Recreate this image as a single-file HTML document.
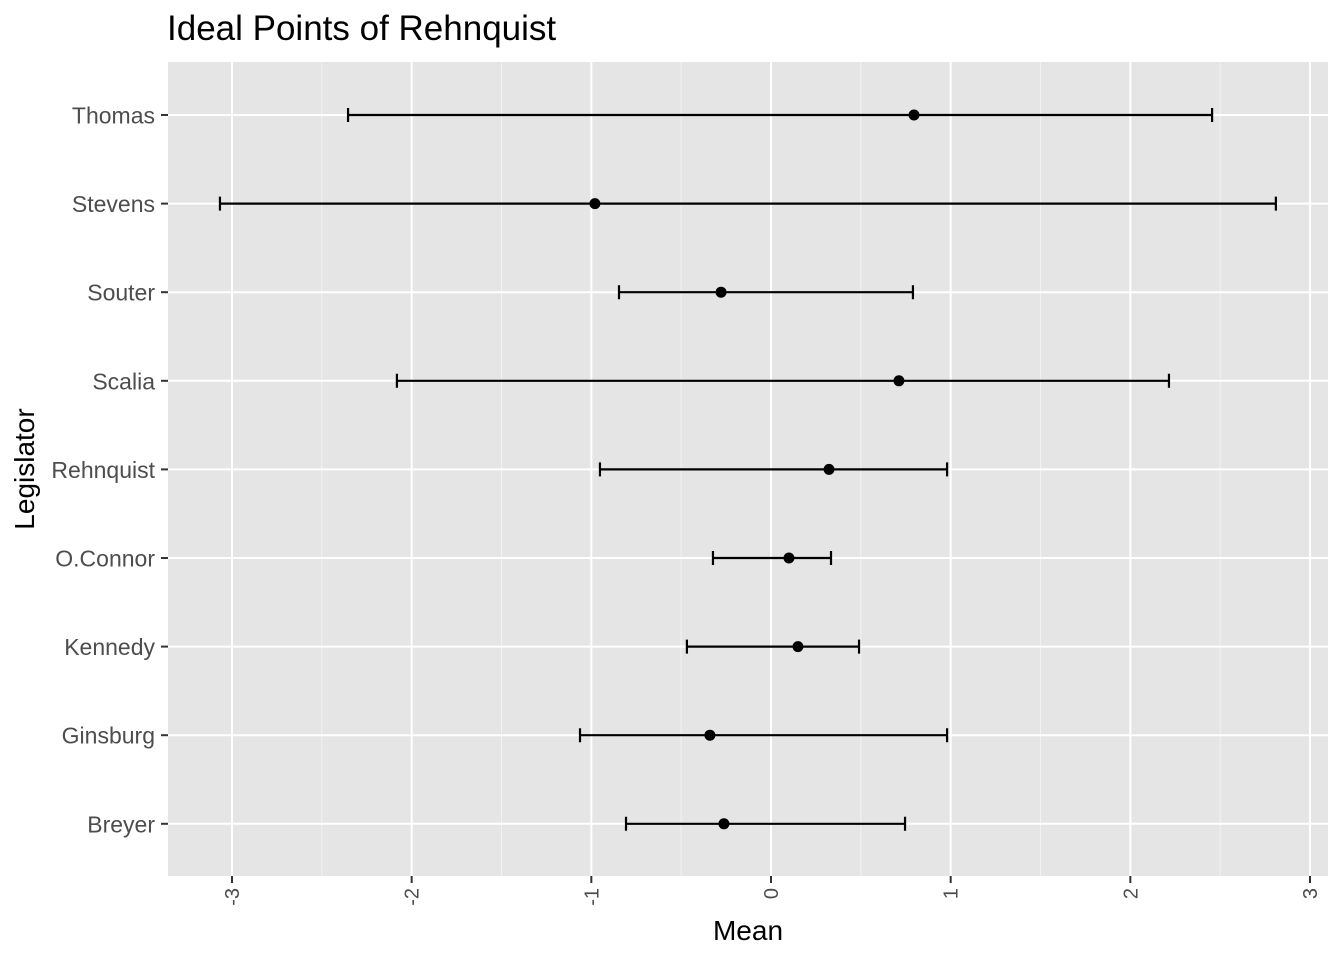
<!DOCTYPE html>
<html><head><meta charset="utf-8"><style>body{margin:0;background:#fff}svg{display:block;font-family:"Liberation Sans",Arial,sans-serif}</style></head>
<body>
<svg id="c" width="1344" height="960">
<rect width="1344" height="960" fill="#fff"/>
<text x="167" y="40" font-size="35" fill="#000">Ideal Points of Rehnquist</text>
<rect x="168" y="62" width="1160" height="814" fill="#e5e5e5"/>
<g id="grid"></g><g id="marks"></g><g id="axes"></g>
<text x="748" y="940" font-size="28" text-anchor="middle">Mean</text>
<text transform="translate(34,469) rotate(-90)" font-size="28" text-anchor="middle">Legislator</text>
</svg>
<script>
const legislators=["Thomas","Stevens","Souter","Scalia","Rehnquist","O.Connor","Kennedy","Ginsburg","Breyer"];
const means=[0.796,-0.98,-0.278,0.712,0.323,0.1,0.15,-0.34,-0.262];
const lows=[-2.354,-3.067,-0.846,-2.082,-0.952,-0.323,-0.468,-1.063,-0.807];
const highs=[2.455,2.81,0.79,2.215,0.98,0.334,0.49,0.98,0.746];
const xTicks=[-3,-2,-1,0,1,2,3];
const xTickLabels=["-3","-2","-1","0","1","2","3"];
const NS="http://www.w3.org/2000/svg";
const x=v=>771+v*179.67;
const y=i=>115+i*88.6;
function mk(tag,attrs,parent){const e=document.createElementNS(NS,tag);for(const k in attrs)e.setAttribute(k,attrs[k]);document.getElementById(parent).appendChild(e);return e;}
for(let i=0;i<xTicks.length-1;i++){const m=(xTicks[i]+xTicks[i+1])/2;
const g=mk('line',{x1:x(m),x2:x(m),y1:62,y2:876,stroke:'#f2f2f2','stroke-width':1},'grid');

}
xTicks.forEach((t,i)=>{
const g=mk('line',{x1:x(t),x2:x(t),y1:62,y2:876,stroke:'#fff','stroke-width':2},'grid');


const tk=mk('line',{x1:x(t),x2:x(t),y1:876,y2:883,stroke:'#333','stroke-width':2},'axes');


const tl=mk('text',{transform:`translate(${x(t)+7},${888}) rotate(-90)`,'font-size':20,fill:'#4d4d4d','text-anchor':'end'},'axes');
tl.textContent=xTickLabels[i];

});
legislators.forEach((n,i)=>{
const yy=y(i);
const g=mk('line',{x1:168,x2:1328,y1:yy,y2:yy,stroke:'#fff','stroke-width':2},'grid');


const tk=mk('line',{x1:161,x2:168,y1:yy,y2:yy,stroke:'#333','stroke-width':2},'axes');


const tl=mk('text',{x:155,y:yy+8.5,'font-size':23,fill:'#4d4d4d','text-anchor':'end'},'axes');
tl.textContent=n;


const ln=mk('path',{d:`M${x(lows[i])},${yy-7}V${yy+7}M${x(lows[i])},${yy}H${x(highs[i])}M${x(highs[i])},${yy-7}V${yy+7}`,stroke:'#000','stroke-width':2.2,fill:'none'},'marks');


const p=mk('circle',{cx:x(means[i]),cy:yy,r:5.5,fill:'#000'},'marks');

});
</script>
</body></html>
